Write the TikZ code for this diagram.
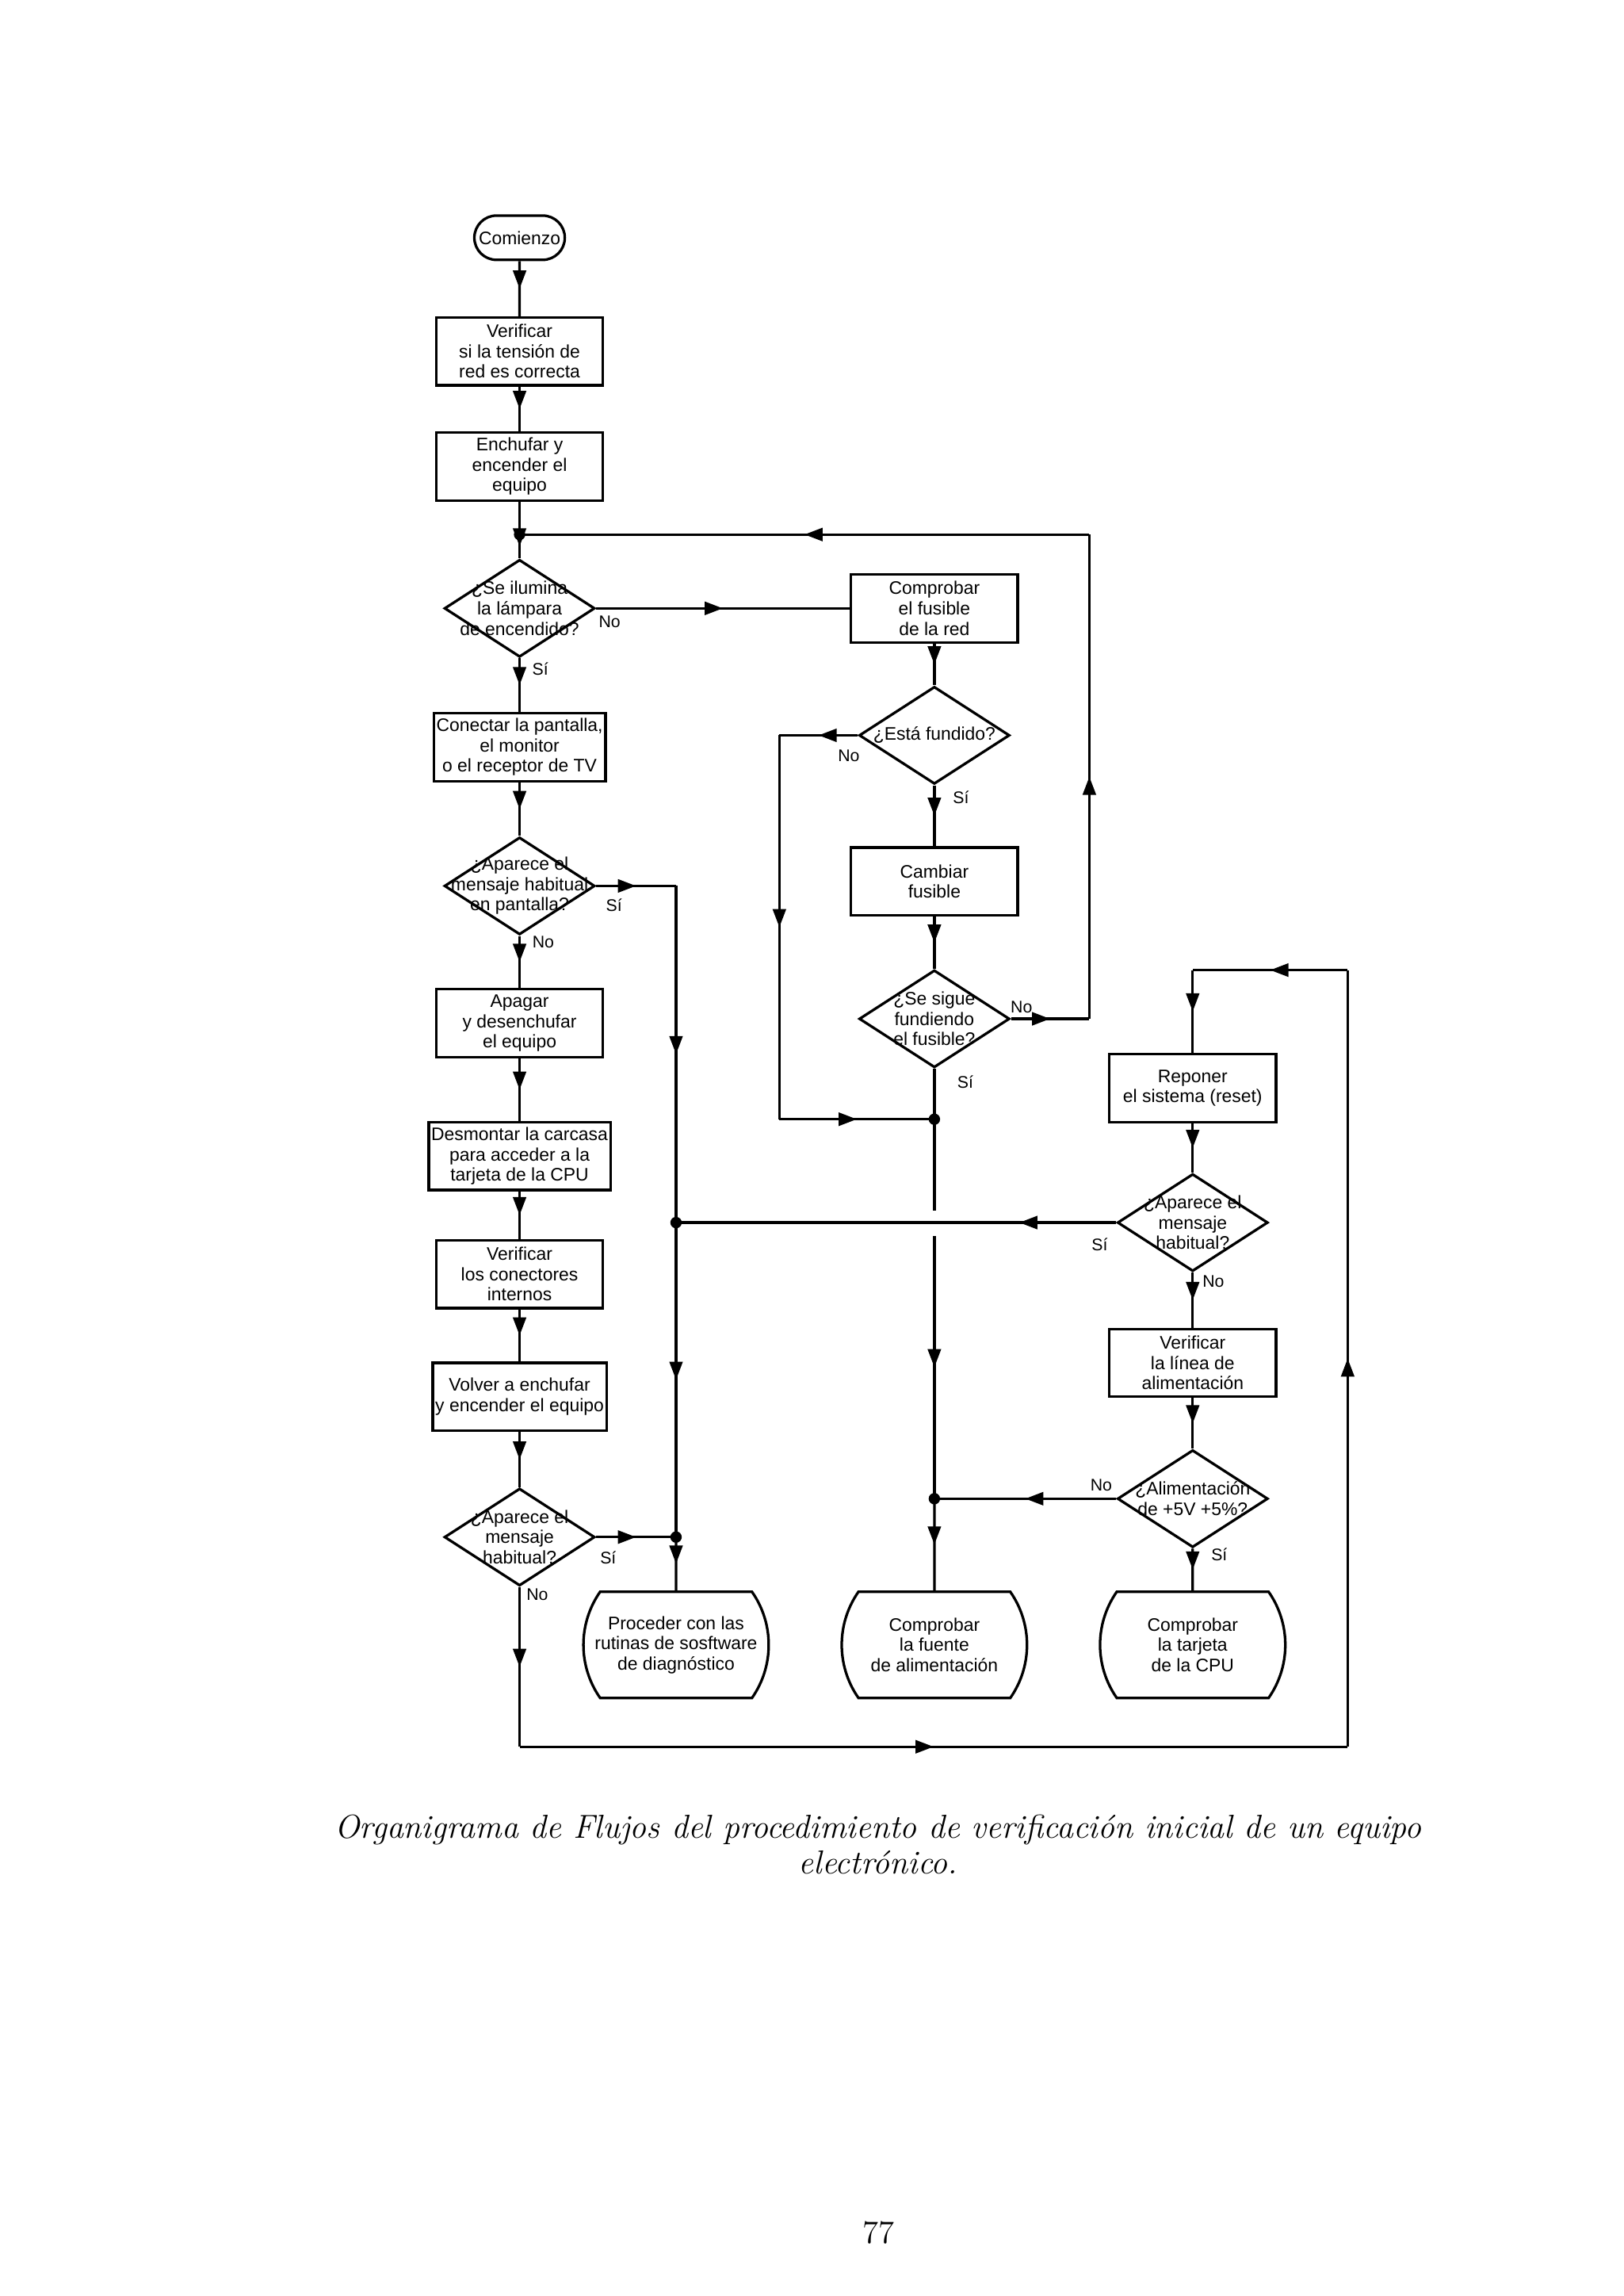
\documentclass[tikz,border=0pt]{standalone}
\usepackage{fontspec}
\newfontfamily\chartfont{Liberation Sans}
\usetikzlibrary{shapes,shapes.misc,shapes.geometric,arrows.meta,decorations.markings}
\tikzset{box/.style={draw,line width=1pt,minimum width=2.26cm,minimum height=0.92cm,align=center,inner sep=1pt,font=\chartfont\fontsize{7}{7.8}\selectfont}}
\tikzset{dia/.style={draw,diamond,line width=1pt,minimum width=2.04cm,minimum height=1.32cm,inner sep=0pt}}
\tikzset{dtext/.style={align=center,inner sep=0pt,font=\chartfont\fontsize{7}{7.8}\selectfont}}
\tikzset{term/.style={draw,rounded rectangle,line width=1pt,minimum width=1.46cm,minimum height=0.6cm,font=\chartfont\fontsize{7}{7.8}\selectfont}}
\tikzset{endbox/.style={draw,rounded rectangle,rounded rectangle arc length=70,line width=1pt,minimum width=2.3cm,minimum height=1.44cm,align=center,inner sep=1pt,font=\chartfont\fontsize{7}{7.8}\selectfont}}
\tikzset{lbl/.style={inner sep=0pt,font=\chartfont\fontsize{6.5}{7}\selectfont}}
\tikzset{mid/.style={postaction={decorate},decoration={markings,mark=at position #1 with {\arrow{Triangle[length=7pt,width=5pt]}}}},mid/.default=0.5}

\begin{document}
\begin{tikzpicture}[x=0.02cm,y=-0.02cm,line width=1pt]
    \useasboundingbox (0,0) rectangle (1100,1555);

    % left column
    \node[term] (start) at (352,161) {Comienzo};
    \node[box] (tension) at (352,238) {Verificar\\si la tensión de\\red es correcta};
    \node[box] (enchufar) at (352,316) {Enchufar y\\encender el\\equipo};
    \node[dia] (lampara) at (352,412) {};
    \node[dtext] (lamparat) at (lampara) {¿Se ilumina\\la lámpara\\de encendido?};
    \node[box] (conectar) at (352,506) {Conectar la pantalla,\\el monitor\\o el receptor de TV};
    \node[dia] (pantalla) at (352,600) {};
    \node[dtext] (pantallat) at (pantalla) {¿Aparece el\\mensaje habitual\\en pantalla?};
    \node[box] (apagar) at (352,693) {Apagar\\y desenchufar\\el equipo};
    \node[box] (desmontar) at (352,783) {Desmontar la carcasa\\para acceder a la\\tarjeta de la CPU};
    \node[box] (conectores) at (352,863) {Verificar\\los conectores\\internos};
    \node[box] (volver) at (352,946) {Volver a enchufar\\y encender el equipo};
    \node[dia] (habitual1) at (352,1041) {};
    \node[dtext] (habitual1t) at (habitual1) {¿Aparece el\\mensaje\\habitual?};
    \node[endbox] (proceder) at (458,1114) {Proceder con las\\rutinas de sosftware\\de diagnóstico};

    % middle column
    \node[box] (fusible) at (633,412) {Comprobar\\el fusible\\de la red};
    \node[dia] (fundido) at (633,498) {};
    \node[dtext] (fundidot) at (fundido) {¿Está fundido?};
    \node[box] (cambiar) at (633,597) {Cambiar\\fusible};
    \node[dia] (sigue) at (633,690) {};
    \node[dtext] (siguet) at (sigue) {¿Se sigue\\fundiendo\\el fusible?};
    \node[endbox,minimum width=1.96cm] (fuente) at (633,1114) {Comprobar\\la fuente\\de alimentación};

    % right column
    \node[box] (reset) at (808,737) {Reponer\\el sistema (reset)};
    \node[dia] (habitual2) at (808,828) {};
    \node[dtext] (habitual2t) at (habitual2) {¿Aparece el\\mensaje\\habitual?};
    \node[box] (linea) at (808,923) {Verificar\\la línea de\\alimentación};
    \node[dia] (alim) at (808,1015) {};
    \node[dtext] (alimt) at (alim) {¿Alimentación\\de +5V +5\%?};
    \node[endbox,minimum width=2.16cm] (tarjeta) at (808,1114) {Comprobar\\la tarjeta\\de la CPU};

    % junctions and corners
    \coordinate (j1) at (352,362);
    \coordinate (j2) at (633,758);
    \coordinate (j3) at (458,828);
    \coordinate (j4) at (458,1041);
    \coordinate (j5) at (633,1015);
    \coordinate (gapa) at (633,820);
    \coordinate (gapb) at (633,837);
    \coordinate (c1) at (528,498);
    \coordinate (c2) at (528,758);
    \coordinate (c3) at (738,690);
    \coordinate (c4) at (738,362);
    \coordinate (c5) at (458,600);
    \coordinate (c6) at (352,1183);
    \coordinate (c7) at (913,1183);
    \coordinate (c8) at (913,657);
    \coordinate (c9) at (808,657);

    \draw[mid] (start) -- (tension);
    \draw[mid] (tension) -- (enchufar);
    \draw (enchufar) -- (j1);
    \draw[mid] (j1) -- (lampara);
    \draw[mid] (lampara) -- (conectar);
    \draw[mid] (conectar) -- (pantalla);
    \draw[mid] (pantalla) -- (apagar);
    \draw[mid] (apagar) -- (desmontar);
    \draw[mid] (desmontar) -- (conectores);
    \draw[mid] (conectores) -- (volver);
    \draw[mid] (volver) -- (habitual1);
    \draw[mid] (lampara.east) -- (fusible.west);
    \draw[mid] (fusible) -- (fundido);
    \draw[mid] (fundido) -- (cambiar);
    \draw[mid] (cambiar) -- (sigue);
    \draw (sigue) -- (j2);
    \draw (j2) -- (gapa);
    \draw[mid] (gapb) -- (j5);
    \draw[mid] (j5) -- (fuente);
    \draw[mid] (fundido.west) -- (c1);
    \draw[mid] (c1) -- (c2);
    \draw[mid] (c2) -- (j2);
    \draw[mid] (sigue.east) -- (c3);
    \draw[mid] (c3) -- (c4);
    \draw[mid] (c4) -- (j1);
    \draw[mid] (pantalla.east) -- (c5);
    \draw[mid] (c5) -- (j3);
    \draw[mid] (j3) -- (j4);
    \draw[mid] (j4) -- (proceder);
    \draw[mid] (habitual1.east) -- (j4);
    \draw[mid=0.22] (habitual2.west) -- (j3);
    \draw[mid] (alim.west) -- (j5);
    \draw[mid] (reset) -- (habitual2);
    \draw[mid] (habitual2) -- (linea);
    \draw[mid] (linea) -- (alim);
    \draw[mid] (alim) -- (tarjeta);
    \draw[mid] (habitual1.south) -- (c6);
    \draw[mid] (c6) -- (c7);
    \draw[mid] (c7) -- (c8);
    \draw[mid] (c8) -- (c9);
    \draw[mid] (c9) -- (reset);
    \foreach \j in {j1,j2,j3,j4,j5} \fill (\j) circle (2.2pt);

    % branch labels
    \node[lbl] (l1) at (413,421) {No};
    \node[lbl] (l2) at (366,453) {Sí};
    \node[lbl] (l3) at (416,613) {Sí};
    \node[lbl] (l4) at (368,638) {No};
    \node[lbl] (l5) at (412,1055) {Sí};
    \node[lbl] (l6) at (364,1080) {No};
    \node[lbl] (l7) at (575,512) {No};
    \node[lbl] (l8) at (651,540) {Sí};
    \node[lbl] (l9) at (692,682) {No};
    \node[lbl] (l10) at (654,733) {Sí};
    \node[lbl] (l11) at (745,843) {Sí};
    \node[lbl] (l12) at (822,868) {No};
    \node[lbl] (l13) at (746,1006) {No};
    \node[lbl] (l14) at (826,1053) {Sí};

    % caption and page number
    \node[align=center,font=\fontsize{12.8}{13.8}\selectfont\itshape] (caption) at (595,1249)
        {Organigrama de Flujos del procedimiento de verificación inicial de un equipo\\electrónico.};
    \node[font=\fontsize{12.5}{14}\selectfont] (page) at (595,1512) {77};
\end{tikzpicture}
\end{document}
